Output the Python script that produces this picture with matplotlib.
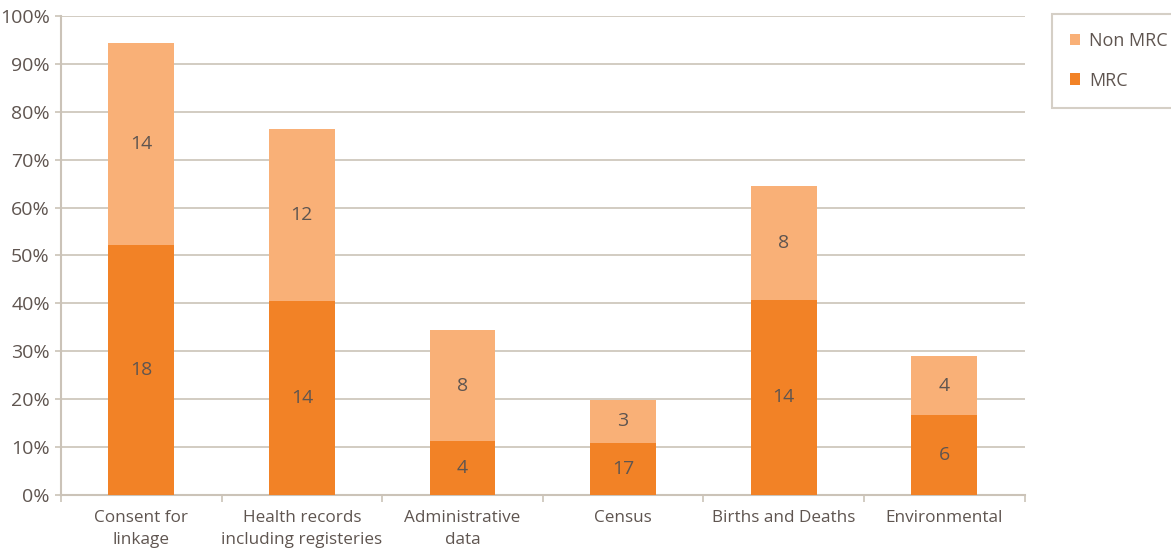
import numpy as np
import matplotlib.pyplot as plt

# categories and values
categories = ['Consent for\nlinkage', 'Health records\nincluding registeries', 'Administrative\ndata',
              'Census', 'Births and Deaths', 'Environmental']
mrc_pct = [52.2, 40.5, 11.3, 10.9, 40.7, 16.7]
total_pct = [94.4, 76.4, 34.4, 19.8, 64.5, 29.0]
mrc_n = [18, 14, 4, 17, 14, 6]
non_mrc_n = [14, 12, 8, 3, 8, 4]

non_mrc_pct = [t - m for t, m in zip(total_pct, mrc_pct)]

c_mrc = '#f28226'
c_non = '#f9b077'
c_grid = '#cbc3b8'
c_text = '#5f5550'

plt.rcParams['font.family'] = ['Open Sans', 'DejaVu Sans']

fig = plt.figure(figsize=(11.71, 5.53), dpi=100)
ax = fig.add_axes([0.052, 0.105, 0.823, 0.866])

x = np.arange(len(categories))
w = 0.41
ax.bar(x, mrc_pct, w, color=c_mrc, label='MRC', zorder=3)
ax.bar(x, non_mrc_pct, w, bottom=mrc_pct, color=c_non, label='Non MRC', zorder=3)

for i in range(len(x)):
    ax.text(x[i], mrc_pct[i] / 2, str(mrc_n[i]), ha='center', va='center',
            fontsize=14, color=c_text, zorder=4)
    ax.text(x[i], mrc_pct[i] + non_mrc_pct[i] / 2, str(non_mrc_n[i]), ha='center', va='center',
            fontsize=14, color=c_text, zorder=4)

ax.set_xlim(-0.5, len(x) - 0.5)
ax.set_ylim(0, 100)
ax.set_yticks(np.arange(0, 101, 10))
ax.set_yticklabels([f'{v}%' for v in range(0, 101, 10)])
ax.yaxis.grid(True, color=c_grid, linewidth=1.2, zorder=0)

# category labels between boundary ticks
ax.set_xticks(np.arange(-0.5, len(x), 1.0))
ax.set_xticklabels([])
ax.set_xticks(x, minor=True)
ax.set_xticklabels(categories, minor=True, linespacing=1.5)
ax.tick_params(axis='x', which='minor', length=0, pad=11, labelsize=12.3, labelcolor=c_text)
ax.tick_params(axis='x', which='major', length=5, color=c_grid, width=1.2)
ax.tick_params(axis='y', length=4, color=c_grid, width=1.2, labelsize=14, labelcolor=c_text, pad=4)

for s in ['top', 'right']:
    ax.spines[s].set_visible(False)
for s in ['left', 'bottom']:
    ax.spines[s].set_color(c_grid)
    ax.spines[s].set_linewidth(1.5)

h, l = ax.get_legend_handles_labels()
leg = fig.legend(h[::-1], l[::-1], loc='upper left', bbox_to_anchor=(0.898, 0.975),
                 frameon=True, fancybox=False, fontsize=13, handlelength=0.6, handleheight=0.6,
                 labelspacing=1.2, borderpad=1.0, handletextpad=0.5, labelcolor=c_text,
                 borderaxespad=0)
leg.get_frame().set_edgecolor(c_grid)
leg.get_frame().set_linewidth(1.5)

fig.savefig('out.png', dpi=100)
